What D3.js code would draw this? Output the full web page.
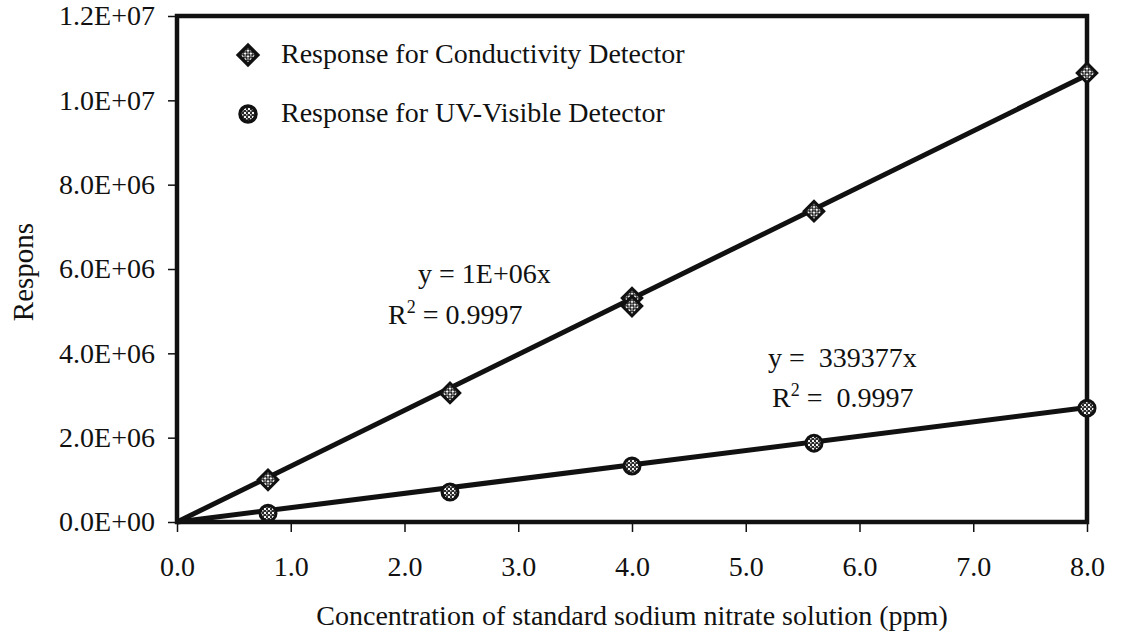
<!DOCTYPE html>
<html>
<head>
<meta charset="utf-8">
<script src="https://cdn.jsdelivr.net/npm/d3@7"></script>
<style>
  html, body { margin: 0; padding: 0; background: #fff; }
  svg { display: block; }
  text { font-family: "Liberation Serif", "Times New Roman", serif; fill: #111; }
</style>
</head>
<body>
<svg id="chart" width="1123" height="639"></svg>
<script>
// Standard sodium nitrate concentrations (ppm)
const concentrations = [0.8, 2.4, 4.0, 4.0, 5.6, 8.0];
const concUV = [0.8, 2.4, 4.0, 5.6, 8.0];
// Detector responses
const conductivityResponse = [1.0e6, 3.06e6, 5.31e6, 5.12e6, 7.37e6, 10.65e6];
const uvResponse = [0.21e6, 0.71e6, 1.33e6, 1.87e6, 2.70e6];
// Linear fits through the origin
const conductivitySlope = 1.325e6;
const uvSlope = 339377;
// Axis ticks
const xTicks = [0, 1, 2, 3, 4, 5, 6, 7, 8];
const yTicks = [0, 2e6, 4e6, 6e6, 8e6, 10e6, 12e6];
const seriesNames = ["Response for Conductivity Detector", "Response for UV-Visible Detector"];

const FS = 28;
const svg = d3.select("#chart");
const margin = { left: 177, top: 16, right: 1087, bottom: 522 };

const x = d3.scaleLinear().domain([0, 8]).range([margin.left, margin.right]);
const y = d3.scaleLinear().domain([0, 1.2e7]).range([margin.bottom, margin.top]);

// Speckled fill used inside the markers
const defs = svg.append("defs");
const pat = defs.append("pattern").attr("id", "dots")
  .attr("width", 4).attr("height", 4).attr("patternUnits", "userSpaceOnUse");
pat.append("rect").attr("width", 4).attr("height", 4).attr("fill", "#2a2a2a");
pat.append("rect").attr("x", 0).attr("y", 0).attr("width", 2).attr("height", 2).attr("fill", "#f4f4f4");
pat.append("rect").attr("x", 2).attr("y", 2).attr("width", 1.5).attr("height", 1.5).attr("fill", "#d8d8d8");

// Axes
const xAxis = d3.axisBottom(x).tickValues(xTicks).tickSize(10).tickSizeOuter(0)
  .tickFormat(d3.format(".1f"));
const gx = svg.append("g").attr("transform", `translate(0,${margin.bottom})`).call(xAxis);
gx.select(".domain").remove();
gx.selectAll(".tick line").attr("stroke", "#111").attr("stroke-width", 1.5);
gx.selectAll(".tick text").attr("font-size", FS).attr("dy", 0).attr("y", 54)
  .style("font-family", "Liberation Serif").attr("fill", "#111");

const fmtSci = d => {
  const e = d === 0 ? 0 : Math.floor(Math.log10(d));
  const m = d / Math.pow(10, e);
  return m.toFixed(1) + "E+" + String(e).padStart(2, "0");
};
const yAxis = d3.axisLeft(y).tickValues(yTicks).tickSize(9).tickSizeOuter(0).tickFormat(fmtSci);
const gy = svg.append("g").attr("transform", `translate(${margin.left},0)`).call(yAxis);
gy.select(".domain").remove();
gy.selectAll(".tick line").attr("stroke", "#111").attr("stroke-width", 1.5);
gy.selectAll(".tick text").attr("font-size", FS).attr("x", -22)
  .style("font-family", "Liberation Serif").attr("fill", "#111");

// Plot frame
svg.append("rect")
  .attr("x", margin.left).attr("y", margin.top)
  .attr("width", margin.right - margin.left).attr("height", margin.bottom - margin.top)
  .attr("fill", "none").attr("stroke", "#111").attr("stroke-width", 4.5);

// Trend lines
const line = d3.line().x(d => x(d[0])).y(d => y(d[1]));
[conductivitySlope, uvSlope].forEach(s => {
  svg.append("path").datum([[0, 0], [8, s * 8]]).attr("d", line)
    .attr("fill", "none").attr("stroke", "#111").attr("stroke-width", 5);
});

// Markers
const diamond = d3.symbol().type(d3.symbolSquare).size(190);
svg.append("g").selectAll("path")
  .data(concentrations.map((c, i) => [c, conductivityResponse[i]]))
  .join("path")
  .attr("d", diamond)
  .attr("transform", d => `translate(${x(d[0])},${y(d[1])}) rotate(45)`)
  .attr("fill", "url(#dots)").attr("stroke", "#111").attr("stroke-width", 3);

svg.append("g").selectAll("circle")
  .data(concUV.map((c, i) => [c, uvResponse[i]]))
  .join("circle")
  .attr("cx", d => x(d[0])).attr("cy", d => y(d[1])).attr("r", 8)
  .attr("fill", "url(#dots)").attr("stroke", "#111").attr("stroke-width", 3);

// Legend
const leg = svg.append("g");
leg.append("path").attr("d", diamond).attr("transform", "translate(248,55) rotate(45)")
  .attr("fill", "url(#dots)").attr("stroke", "#111").attr("stroke-width", 3.5);
leg.append("circle").attr("cx", 248).attr("cy", 114).attr("r", 8)
  .attr("fill", "url(#dots)").attr("stroke", "#111").attr("stroke-width", 3.5);
leg.append("text").attr("x", 281).attr("y", 63).attr("font-size", FS).text(seriesNames[0]);
leg.append("text").attr("x", 281).attr("y", 122).attr("font-size", FS).text(seriesNames[1]);

// Regression annotations
function rSquared(xp, yp, value) {
  const t = svg.append("text").attr("x", xp).attr("y", yp).attr("font-size", FS)
    .attr("xml:space", "preserve");
  t.append("tspan").text("R");
  t.append("tspan").attr("font-size", 18).attr("dy", -11).text("2");
  t.append("tspan").attr("dy", 11).text(value);
}
svg.append("text").attr("x", 418).attr("y", 283).attr("font-size", FS).attr("xml:space", "preserve")
  .text("y = 1E+06x");
rSquared(388, 324, " = 0.9997");

svg.append("text").attr("x", 768).attr("y", 367).attr("font-size", FS).attr("xml:space", "preserve")
  .text("y =  339377x");
rSquared(772, 407, " =  0.9997");

// Axis titles
svg.append("text").attr("x", 632).attr("y", 625).attr("text-anchor", "middle").attr("font-size", FS)
  .text("Concentration of standard sodium nitrate solution (ppm)");
svg.append("text").attr("transform", "translate(33,272) rotate(-90)").attr("text-anchor", "middle")
  .attr("font-size", 29).text("Respons");
</script>
</body>
</html>
